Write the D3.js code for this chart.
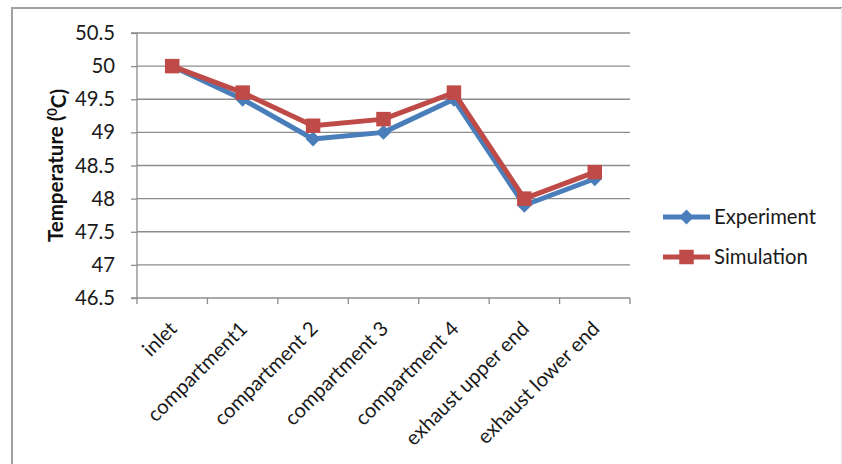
<!DOCTYPE html>
<html>
<head>
<meta charset="utf-8">
<script src="https://cdn.jsdelivr.net/npm/d3@7"></script>
<style>
  html, body { margin: 0; padding: 0; background: #fff; }
  svg { display: block; font-family: Lato, "Open Sans", sans-serif; }
</style>
</head>
<body>
<svg id="chart" width="842" height="464"></svg>
<script>
// Temperature per measuring location: measured vs. simulated
const categories = ["inlet", "compartment1", "compartment 2", "compartment 3",
                    "compartment 4", "exhaust upper end", "exhaust lower end"];
const experiment = [50.0, 49.5, 48.9, 49.0, 49.5, 47.9, 48.3];
const simulation = [50.0, 49.6, 49.1, 49.2, 49.6, 48.0, 48.4];
const yTicks = [46.5, 47, 47.5, 48, 48.5, 49, 49.5, 50, 50.5];
const seriesNames = ["Experiment", "Simulation"];

const svg = d3.select("#chart");
const W = 842, H = 464;
const plot = { left: 137, right: 630, top: 33, bottom: 298 };
const blue = "#4a7ebb", red = "#be4b48";
const fontSize = 20.3;

// outer chart frame
svg.append("path")
  .attr("d", `M12,${H + 2} L12,8 L${W + 2},8`)
  .attr("fill", "none").attr("stroke", "#a0a0a0").attr("stroke-width", 2);
svg.append("line")
  .attr("x1", 841.5).attr("x2", 841.5).attr("y1", 8).attr("y2", H)
  .attr("stroke", "#eeeeee").attr("stroke-width", 1);

const x = d3.scaleBand().domain(categories).range([plot.left, plot.right]);
const y = d3.scaleLinear().domain([46.5, 50.5]).range([plot.bottom, plot.top]);

// horizontal gridlines
svg.append("g").selectAll("line").data(yTicks.filter(t => t > 46.5)).join("line")
  .attr("x1", plot.left).attr("x2", plot.right)
  .attr("y1", d => y(d)).attr("y2", d => y(d))
  .attr("stroke", "#8c8c8c").attr("stroke-width", 1.3);

// y axis
const yAxis = svg.append("g").attr("transform", `translate(${plot.left},0)`)
  .call(d3.axisLeft(y).tickValues(yTicks).tickSize(6).tickPadding(16)
    .tickFormat(d => d3.format("")(d)));
yAxis.select(".domain").attr("stroke", "#8c8c8c").attr("stroke-width", 1.3)
  .attr("d", `M-6,${plot.top}H0V${plot.bottom}H-6`);
yAxis.selectAll(".tick line").attr("stroke", "#8c8c8c").attr("stroke-width", 1.3);
yAxis.selectAll(".tick text").attr("fill", "#1a1a1a")
  .style("font-size", fontSize + "px").style("font-family", "Lato, sans-serif");

// x axis with ticks on category boundaries
const xAxisG = svg.append("g").attr("transform", `translate(0,${plot.bottom})`);
xAxisG.append("line").attr("x1", plot.left).attr("x2", plot.right)
  .attr("stroke", "#8c8c8c").attr("stroke-width", 1.3);
const bounds = categories.map(c => x(c)).concat([x(categories[categories.length - 1]) + x.bandwidth()]);
xAxisG.selectAll("line.tk").data(bounds).join("line").attr("class", "tk")
  .attr("x1", d => d).attr("x2", d => d).attr("y1", 0).attr("y2", 6)
  .attr("stroke", "#8c8c8c").attr("stroke-width", 1.3);
xAxisG.selectAll("text").data(categories).join("text")
  .attr("transform", d => `translate(${x(d) + x.bandwidth() / 2 - 4},${22}) rotate(-45)`)
  .attr("text-anchor", "end").attr("dy", "0.7em")
  .attr("fill", "#1a1a1a").style("font-size", fontSize + "px")
  .text(d => d);

// y axis title
const title = svg.append("text")
  .attr("transform", `translate(63,${(plot.top + plot.bottom) / 2}) rotate(-90)`)
  .attr("text-anchor", "middle").attr("fill", "#111")
  .style("font-size", "20.5px").style("font-weight", "bold");
title.append("tspan").text("Temperature (");
title.append("tspan").attr("dy", "-0.45em").style("font-size", "13px").text("0");
title.append("tspan").attr("dy", "0.45em").text("C)");

// series
const line = d3.line().x((d, i) => x(categories[i]) + x.bandwidth() / 2).y(d => y(d));
// square-diamond marker (rotated square)
const diamond = { draw(ctx, size) { const r = Math.sqrt(size / 2); ctx.moveTo(0, -r); ctx.lineTo(r, 0); ctx.lineTo(0, r); ctx.lineTo(-r, 0); ctx.closePath(); } };
const diamondSym = d3.symbol().type(diamond).size(110);
const squareSym = d3.symbol().type(d3.symbolSquare).size(210);

function drawSeries(values, color, sym) {
  const g = svg.append("g");
  g.append("path").datum(values).attr("d", line)
    .attr("fill", "none").attr("stroke", color).attr("stroke-width", 5)
    .attr("stroke-linejoin", "round");
  g.selectAll("path.m").data(values).join("path").attr("class", "m")
    .attr("transform", (d, i) => `translate(${x(categories[i]) + x.bandwidth() / 2},${y(d)})`)
    .attr("d", sym).attr("fill", color);
}
drawSeries(experiment, blue, diamondSym);
drawSeries(simulation, red, squareSym);

// legend
const legend = svg.append("g");
[[seriesNames[0], blue, diamondSym, 217], [seriesNames[1], red, squareSym, 257]].forEach(([name, color, sym, ly]) => {
  legend.append("line").attr("x1", 663).attr("x2", 710).attr("y1", ly).attr("y2", ly)
    .attr("stroke", color).attr("stroke-width", 5);
  legend.append("path").attr("transform", `translate(686.5,${ly})`).attr("d", sym).attr("fill", color);
  legend.append("text").attr("x", 714).attr("y", ly).attr("dy", "0.35em")
    .attr("fill", "#1a1a1a").style("font-size", fontSize + "px").text(name);
});
</script>
</body>
</html>
